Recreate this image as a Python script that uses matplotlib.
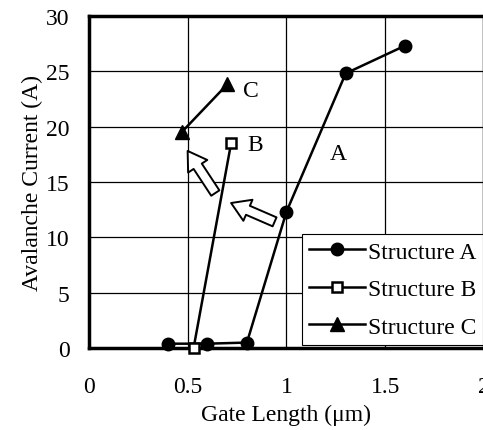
import matplotlib.pyplot as plt

plt.rcParams['font.family'] = ['Liberation Serif', 'DejaVu Serif']

# Structure A
len_a = [0.4, 0.6, 0.8, 1.0, 1.3, 1.6]
cur_a = [0.4, 0.4, 0.5, 12.3, 24.8, 27.3]
# Structure B
len_b = [0.53, 0.72]
cur_b = [0.0, 18.5]
# Structure C
len_c = [0.47, 0.70]
cur_c = [19.5, 23.8]

fig = plt.figure(figsize=(4.83, 4.31), dpi=100)
ax = fig.add_axes([0.184, 0.19, 0.818, 0.771])

ax.plot(len_a, cur_a, '-o', color='black', lw=1.8, ms=9, label='Structure A', clip_on=False, zorder=5)
ax.plot(len_b, cur_b, '-s', color='black', lw=1.8, ms=7, mfc='white', mew=1.8, label='Structure B', clip_on=False, zorder=6)
ax.plot(len_c, cur_c, '-^', color='black', lw=1.8, ms=10, label='Structure C', clip_on=False, zorder=5)

ax.text(0.78, 23.3, 'C', fontsize=17, va='center')
ax.text(0.80, 18.4, 'B', fontsize=17, va='center')
ax.text(1.22, 17.6, 'A', fontsize=17, va='center')

# hollow arrows
for (x0, y0, x1, y1) in [(0.64, 14.0, 0.50, 17.8), (0.94, 11.4, 0.72, 13.1)]:
    ax.annotate('', xy=(x1, y1), xytext=(x0, y0),
                arrowprops=dict(arrowstyle='simple,head_length=0.6,head_width=0.75,tail_width=0.32',
                                fc='white', ec='black', lw=1.4, mutation_scale=22,
                                shrinkA=0, shrinkB=0))

ax.set_xlim(0, 2)
ax.set_ylim(0, 30)
ax.set_xticks([0, 0.5, 1, 1.5, 2])
ax.set_xticklabels(['0', '0.5', '1', '1.5', '2'])
ax.set_yticks(range(0, 31, 5))
ax.tick_params(length=0, labelsize=17, pad=14)
ax.tick_params(axis='x', pad=20)
ax.grid(True, color='black', lw=0.9)
for s in ax.spines.values():
    s.set_linewidth(2.5)

ax.set_xlabel('Gate Length (\u03bcm)', fontsize=17, labelpad=5)
ax.set_ylabel('Avalanche Current (A)', fontsize=17, labelpad=2)

leg = ax.legend(loc='lower right', bbox_to_anchor=(0.998, 0.01), fontsize=17, frameon=True,
                fancybox=False, edgecolor='black', framealpha=1, handlelength=2.4,
                handletextpad=0.1, borderpad=0.3, labelspacing=0.68, borderaxespad=0)
leg.get_frame().set_linewidth(0.8)

fig.savefig('out.png', dpi=100)
